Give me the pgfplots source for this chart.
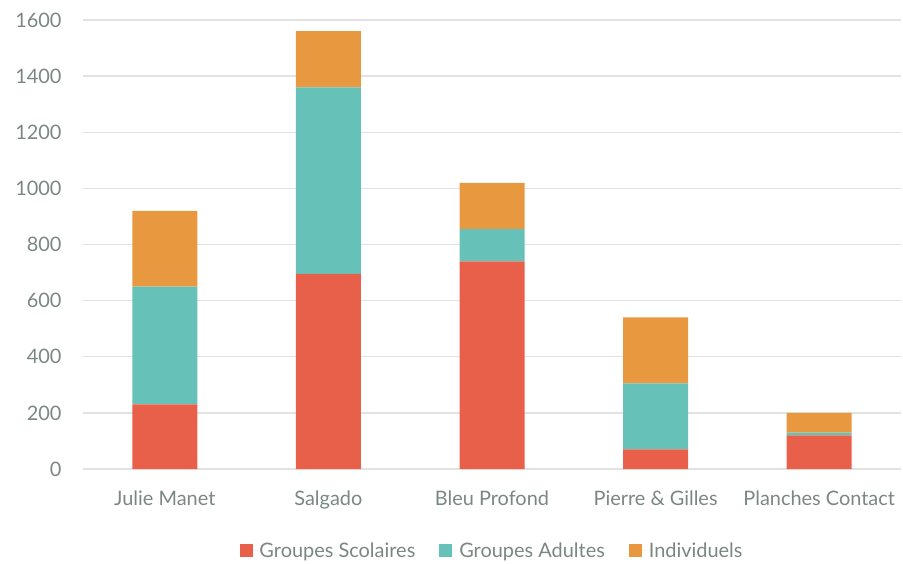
\documentclass[border=0pt]{standalone}
\usepackage{pgfplots}
\pgfplotsset{compat=1.18}
\usepackage{fontspec}
\setmainfont{Lato}
\definecolor{cred}{HTML}{E9604A}
\definecolor{cteal}{HTML}{66C2B9}
\definecolor{corange}{HTML}{E8993F}
\definecolor{ctext}{HTML}{7B8784}
\definecolor{cgrid}{HTML}{E2E2E2}
\begin{document}
\begin{tikzpicture}[x=1bp,y=1bp]
\begin{axis}[
  at={(0,0)}, anchor=south west,
  scale only axis, width=818bp, height=449bp,
  ybar stacked, bar width=65bp,
  xmin=-0.5, xmax=4.5, ymin=0, ymax=1600,
  xtick=data,
  xticklabels={Julie Manet, Salgado, Bleu Profond, Pierre \& Gilles, Planches Contact},
  ytick={0,200,...,1600},
  ymajorgrids, grid style={cgrid, line width=1.3bp},
  axis line style={draw=none},
  major tick length=0pt,
  tick label style={font=\fontsize{20}{24}\selectfont, text=ctext},
  /pgf/number format/assume math mode=true,
  /pgf/number format/1000 sep={},
  yticklabel style={xshift=-18bp},
  xticklabel style={yshift=-18bp},
  legend style={at={(0.5,-0.1826)}, anchor=center, draw=none, legend columns=3,
    font=\fontsize{20}{24}\selectfont, text=ctext,
    /tikz/every even column/.append style={column sep=22bp}},
  legend image code/.code={\fill[#1] (0bp,-6.5bp) rectangle (13bp,6.5bp); \path (13bp,0bp) -- (18bp,0bp);},
]
\addplot[fill=cred, draw=none] coordinates {(0,230) (1,695) (2,740) (3,70) (4,120)};
\addplot[fill=cteal, draw=none] coordinates {(0,420) (1,665) (2,115) (3,235) (4,10)};
\addplot[fill=corange, draw=none] coordinates {(0,270) (1,200) (2,165) (3,235) (4,70)};
\legend{Groupes Scolaires, Groupes Adultes, Individuels}
\end{axis}
\path (-83bp,-94bp) rectangle (820bp,469bp);
\end{tikzpicture}
\end{document}
